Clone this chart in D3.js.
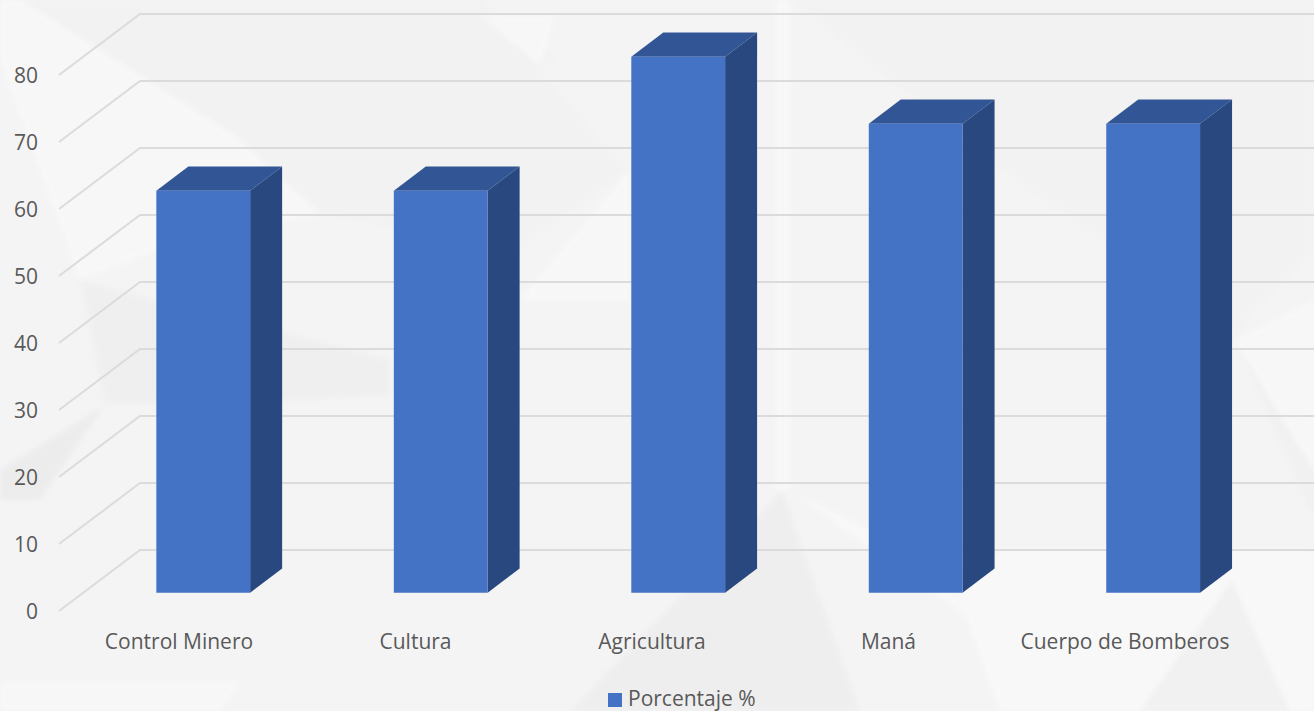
<!DOCTYPE html>
<html>
<head>
<meta charset="utf-8">
<script src="https://cdnjs.cloudflare.com/ajax/libs/d3/7.8.5/d3.min.js"></script>
<style>
  html, body { margin: 0; padding: 0; background: #f4f4f5; overflow: hidden; }
  text { font-family: "Open Sans", sans-serif; fill: #595959; }
</style>
</head>
<body>
<div id="chart"></div>
<script>
var categories = ["Control Minero", "Cultura", "Agricultura", "Maná", "Cuerpo de Bomberos"];
var percentages = [60, 60, 80, 70, 70];
var yTicks = [0, 10, 20, 30, 40, 50, 60, 70, 80];
var seriesName = "Porcentaje %";

// faint facets of the slide background
var facets = [
  { fill: "#f9f9f9", pts: "0,0 20,0 240,140 320,215 170,245 80,280 0,60" },
  { fill: "#f2f2f3", pts: "20,0 480,0 560,60 540,70 630,170 520,250 320,215 240,140" },
  { fill: "#f9f9f9", pts: "480,15 555,15 540,65" },
  { fill: "#f9f9f9", pts: "630,170 630,300 520,300" },
  { fill: "#f9f9f9", pts: "776,0 790,0 790,490 776,490" },
  { fill: "#f2f2f3", pts: "790,0 1314,0 1314,250 1235,335 1000,170" },
  { fill: "#eeeeef", pts: "80,280 390,360 390,395 300,400 105,405" },
  { fill: "#ebeaeb", pts: "105,405 0,470 0,500 40,500" },
  { fill: "#f9f9f9", pts: "1235,340 1314,300 1314,470" },
  { fill: "#f0f0f1", pts: "1240,350 1314,470 1314,520" },
  { fill: "#f9f9f9", pts: "785,487 860,525 1020,610 1000,640" },
  { fill: "#fafafa", pts: "960,600 1000,550 1314,550 1314,711 1000,711" },
  { fill: "#f1f1f2", pts: "1232,580 1140,711 1290,711" },
  { fill: "#edecee", pts: "782,490 570,711 860,711" },
  { fill: "#f9f9f9", pts: "0,682 240,682 220,711 0,711" }
];

var svgWidth = 1314;
var svgHeight = 711;

// oblique projection of the 3d column chart
var depthX = 81;
var depthY = -61;
var barFront = 0.30;
var barBack = 0.695;

var svg = d3.select("#chart")
  .append("svg")
  .attr("width", svgWidth)
  .attr("height", svgHeight)
  .style("display", "block");

svg.append("defs").append("filter")
  .attr("id", "soft")
  .append("feGaussianBlur")
  .attr("stdDeviation", 2.5);

svg.append("g")
  .attr("filter", "url(#soft)")
  .attr("opacity", 0.75)
  .selectAll("polygon")
  .data(facets)
  .enter()
  .append("polygon")
  .attr("points", d => d.pts)
  .attr("fill", d => d.fill);

var xScale = d3.scaleBand()
  .domain(categories)
  .range([60.8, 1247])
  .paddingInner(0.605)
  .paddingOuter(0.3);

// labels sit a little tighter than the columns
var labelScale = d3.scalePoint()
  .domain(categories)
  .range([179, 1125]);

var yScale = d3.scaleLinear()
  .domain([0, 80])
  .range([611, 75]);

function px(x, depth) { return x + depth * depthX; }
function py(y, depth) { return y + depth * depthY; }

// floor/wall grid lines
var grid = svg.append("g")
  .attr("fill", "none")
  .attr("stroke", "#dbdbdb")
  .attr("stroke-width", 2);

grid.selectAll("path")
  .data(yTicks)
  .enter()
  .append("path")
  .attr("d", function(d) {
    var y = yScale(d);
    return "M59," + y + "L" + px(59, 1) + "," + py(y, 1) + "L" + svgWidth + "," + py(y, 1);
  });

// y labels
svg.append("g").selectAll("text")
  .data(yTicks)
  .enter()
  .append("text")
  .attr("x", 38)
  .attr("y", d => yScale(d))
  .attr("dy", "0.36em")
  .attr("text-anchor", "end")
  .attr("font-size", 21)
  .text(d => d);

// columns
var bars = svg.append("g").selectAll("g")
  .data(categories)
  .enter()
  .append("g");

function quad(pts) {
  return pts.map(p => p.join(",")).join(" ");
}

bars.append("polygon")
  .attr("fill", "#325595")
  .attr("points", function(d, i) {
    var x0 = xScale(d), x1 = x0 + xScale.bandwidth(), y = yScale(percentages[i]);
    return quad([[px(x0, barFront), py(y, barFront)], [px(x1, barFront), py(y, barFront)],
      [px(x1, barBack), py(y, barBack)], [px(x0, barBack), py(y, barBack)]]);
  });

bars.append("polygon")
  .attr("fill", "#294880")
  .attr("points", function(d, i) {
    var x1 = xScale(d) + xScale.bandwidth(), y = yScale(percentages[i]), y0 = yScale(0);
    return quad([[px(x1, barFront), py(y, barFront)], [px(x1, barBack), py(y, barBack)],
      [px(x1, barBack), py(y0, barBack)], [px(x1, barFront), py(y0, barFront)]]);
  });

bars.append("polygon")
  .attr("fill", "#4472c4")
  .attr("points", function(d, i) {
    var x0 = xScale(d), x1 = x0 + xScale.bandwidth(), y = yScale(percentages[i]), y0 = yScale(0);
    return quad([[px(x0, barFront), py(y, barFront)], [px(x1, barFront), py(y, barFront)],
      [px(x1, barFront), py(y0, barFront)], [px(x0, barFront), py(y0, barFront)]]);
  });

// category labels
svg.append("g").selectAll("text")
  .data(categories)
  .enter()
  .append("text")
  .attr("x", d => labelScale(d))
  .attr("y", 649)
  .attr("text-anchor", "middle")
  .attr("font-size", 21)
  .text(d => d);

// legend
svg.append("rect")
  .attr("x", 608)
  .attr("y", 693)
  .attr("width", 14)
  .attr("height", 14)
  .attr("fill", "#4472c4");

svg.append("text")
  .attr("x", 628)
  .attr("y", 705.5)
  .attr("font-size", 21)
  .text(seriesName);
</script>
</body>
</html>
